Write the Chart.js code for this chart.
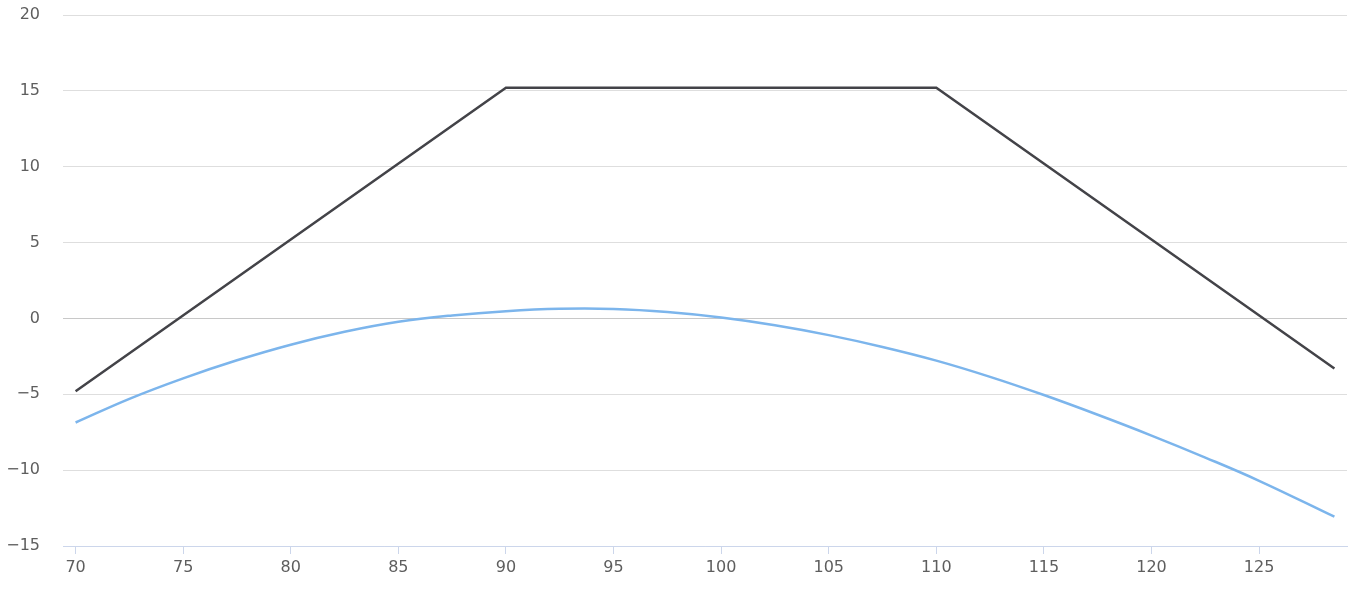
<!DOCTYPE html>
<html>
<head>
<meta charset="utf-8">
<script src="https://cdn.jsdelivr.net/npm/chart.js@4/dist/chart.umd.min.js"></script>
<style>
  html, body { margin: 0; padding: 0; background: #ffffff; }
  #wrap { width: 1372px; height: 596px; position: relative; }
</style>
</head>
<body>
<div id="wrap"><canvas id="c"></canvas></div>
<script>
// ---- data ----
const payoffX = [70, 90, 110, 128.5];
const payoffY = [-4.8, 15.2, 15.2, -3.3];

const valueX = [70, 72.5, 75, 77.5, 80, 82.5, 85, 87.5, 90, 92.5, 95, 97.5, 100, 102.5, 105, 107.5, 110, 112.5, 115, 117.5, 120, 122.5, 125, 128.5];
const valueY = [-6.86, -5.3, -3.95, -2.76, -1.73, -0.88, -0.22, 0.2, 0.48, 0.63, 0.62, 0.42, 0.06, -0.45, -1.1, -1.88, -2.78, -3.85, -5.05, -6.35, -7.72, -9.17, -10.7, -13.07];

const xTicks = [70, 75, 80, 85, 90, 95, 100, 105, 110, 115, 120, 125];
const yTicks = [-15, -10, -5, 0, 5, 10, 15, 20];

const toPoints = (xs, ys) => xs.map((x, i) => ({ x: x, y: ys[i] }));
const fmt = (v) => (v < 0 ? '\u2212' + Math.abs(v) : String(v));

const FONT = { family: '"DejaVu Sans", sans-serif', size: 16 };
const LABEL = '#5e5e5e';

new Chart(document.getElementById('c'), {
  type: 'line',
  data: {
    datasets: [
      {
        label: 'Value',
        data: toPoints(valueX, valueY),
        borderColor: '#7cb5ec',
        borderWidth: 2.5,
        pointRadius: 0,
        fill: false,
        tension: 0.4
      },
      {
        label: 'Payoff',
        data: toPoints(payoffX, payoffY),
        borderColor: '#434348',
        borderWidth: 2.5,
        pointRadius: 0,
        fill: false,
        tension: 0
      }
    ]
  },
  options: {
    responsive: true,
    maintainAspectRatio: false,
    animation: false,
    layout: { padding: { top: 15, right: 25, left: 0, bottom: 0 } },
    plugins: {
      legend: { display: false },
      tooltip: { enabled: false },
      title: { display: false }
    },
    scales: {
      x: {
        type: 'linear',
        min: 69.415,
        max: 129.085,
        afterBuildTicks: (s) => { s.ticks = xTicks.map(v => ({ value: v })); },
        afterFit: (s) => { s.height = 50; s.paddingLeft = 0; s.paddingRight = 0; },
        grid: {
          drawOnChartArea: false,
          drawTicks: true,
          tickLength: 8,
          color: '#ccd6eb'
        },
        border: { display: true, color: '#ccd6eb', width: 1 },
        ticks: {
          color: LABEL,
          font: FONT,
          padding: 4,
          maxRotation: 0,
          autoSkip: false,
          callback: (v) => fmt(v)
        }
      },
      y: {
        type: 'linear',
        min: -15,
        max: 20,
        afterBuildTicks: (s) => { s.ticks = yTicks.map(v => ({ value: v })); },
        afterFit: (s) => { s.width = 63; s.paddingTop = 0; s.paddingBottom = 0; },
        grid: {
          drawTicks: false,
          color: (ctx) => (ctx.tick && ctx.tick.value === 0) ? '#c8c8c8' : '#dedede',
          lineWidth: 1
        },
        border: { display: false },
        ticks: {
          color: LABEL,
          font: FONT,
          padding: 23,
          callback: (v) => fmt(v)
        }
      }
    }
  }
});
</script>
</body>
</html>
